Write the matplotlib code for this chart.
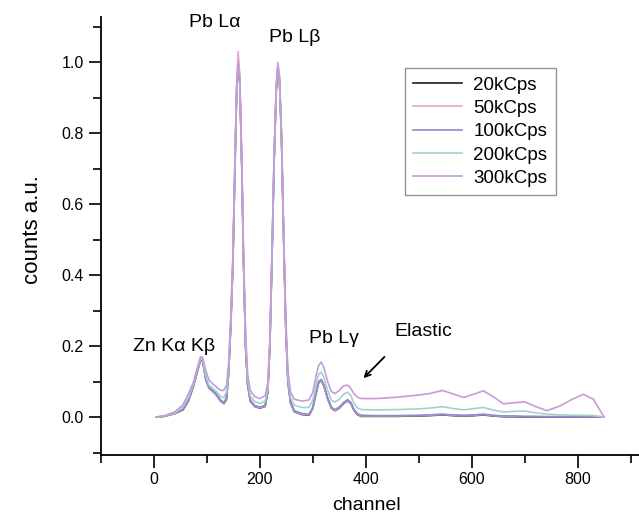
import matplotlib
matplotlib.use("Agg")
import matplotlib.pyplot as plt
from matplotlib.ticker import MultipleLocator

plt.rcParams['font.family'] = ['Liberation Sans', 'DejaVu Sans']

# channel positions
channel = [5, 20, 40, 55, 65, 75, 82, 88, 92, 98, 104, 110, 118, 126, 132, 137, 141, 145,
           149, 153, 156, 159, 162, 166, 169, 173, 177, 182, 190, 200, 210, 215, 219, 223,
           227, 231, 234, 237, 241, 245, 249, 253, 258, 265, 280, 293, 300, 306, 311, 316,
           321, 328, 335, 342, 350, 358, 366, 372, 378, 385, 392, 420, 460, 500, 520, 545,
           565, 585, 605, 622, 640, 660, 680, 700, 720, 742, 765, 790, 811, 830, 840, 850]

c20k = [0.000, 0.002, 0.010, 0.020, 0.045, 0.088, 0.128, 0.160, 0.158, 0.105, 0.082, 0.074,
        0.062, 0.045, 0.038, 0.050, 0.120, 0.250, 0.420, 0.700, 0.900, 0.990, 0.950, 0.700,
        0.450, 0.200, 0.090, 0.045, 0.030, 0.025, 0.030, 0.070, 0.200, 0.450, 0.720, 0.920,
        0.980, 0.950, 0.780, 0.500, 0.250, 0.100, 0.040, 0.015, 0.007, 0.005, 0.025, 0.065,
        0.097, 0.103, 0.088, 0.052, 0.025, 0.018, 0.025, 0.038, 0.046, 0.038, 0.018, 0.006,
        0.002, 0.002, 0.002, 0.003, 0.004, 0.006, 0.004, 0.003, 0.004, 0.006, 0.003, 0.001,
        0.001, 0.000, 0.000, 0.000, 0.000, 0.000, 0.000, 0.000, 0.000, 0.000]

c50k = [0.000, 0.002, 0.010, 0.021, 0.046, 0.089, 0.130, 0.162, 0.160, 0.107, 0.083, 0.075,
        0.063, 0.046, 0.039, 0.052, 0.125, 0.260, 0.440, 0.720, 0.930, 1.030, 0.970, 0.710,
        0.455, 0.205, 0.092, 0.046, 0.031, 0.026, 0.031, 0.072, 0.205, 0.460, 0.735, 0.940,
        1.000, 0.965, 0.785, 0.505, 0.252, 0.101, 0.041, 0.016, 0.008, 0.006, 0.026, 0.066,
        0.098, 0.104, 0.089, 0.053, 0.026, 0.019, 0.026, 0.039, 0.047, 0.039, 0.019, 0.007,
        0.003, 0.003, 0.003, 0.004, 0.005, 0.007, 0.005, 0.004, 0.005, 0.007, 0.004, 0.002,
        0.002, 0.001, 0.001, 0.001, 0.001, 0.001, 0.001, 0.001, 0.001, 0.000]

c100k = [0.000, 0.002, 0.011, 0.022, 0.047, 0.090, 0.131, 0.163, 0.161, 0.108, 0.085, 0.077,
         0.065, 0.048, 0.041, 0.054, 0.124, 0.255, 0.430, 0.710, 0.910, 1.000, 0.955, 0.705,
         0.455, 0.205, 0.094, 0.048, 0.033, 0.028, 0.033, 0.073, 0.203, 0.455, 0.725, 0.925,
         0.985, 0.955, 0.783, 0.503, 0.253, 0.103, 0.043, 0.018, 0.010, 0.008, 0.028, 0.068,
         0.100, 0.106, 0.091, 0.055, 0.028, 0.021, 0.028, 0.041, 0.049, 0.041, 0.021, 0.009,
         0.005, 0.004, 0.004, 0.005, 0.006, 0.008, 0.006, 0.005, 0.006, 0.008, 0.005, 0.003,
         0.003, 0.002, 0.002, 0.001, 0.001, 0.001, 0.001, 0.001, 0.001, 0.000]

c200k = [0.000, 0.003, 0.012, 0.030, 0.055, 0.095, 0.135, 0.165, 0.162, 0.115, 0.090, 0.082,
         0.072, 0.058, 0.055, 0.070, 0.130, 0.260, 0.430, 0.710, 0.910, 0.995, 0.955, 0.710,
         0.460, 0.220, 0.105, 0.060, 0.044, 0.038, 0.045, 0.080, 0.210, 0.460, 0.730, 0.925,
         0.985, 0.955, 0.790, 0.510, 0.260, 0.115, 0.055, 0.033, 0.027, 0.027, 0.047, 0.090,
         0.120, 0.127, 0.112, 0.075, 0.048, 0.042, 0.050, 0.064, 0.070, 0.060, 0.038, 0.025,
         0.021, 0.020, 0.021, 0.023, 0.025, 0.029, 0.024, 0.020, 0.024, 0.027, 0.020, 0.014,
         0.016, 0.017, 0.012, 0.008, 0.006, 0.005, 0.005, 0.004, 0.002, 0.000]

c300k = [0.000, 0.004, 0.015, 0.035, 0.065, 0.100, 0.140, 0.170, 0.168, 0.130, 0.105, 0.095,
         0.085, 0.075, 0.075, 0.090, 0.150, 0.280, 0.450, 0.720, 0.920, 1.000, 0.960, 0.720,
         0.480, 0.240, 0.120, 0.075, 0.058, 0.052, 0.060, 0.095, 0.220, 0.470, 0.740, 0.930,
         0.990, 0.960, 0.800, 0.530, 0.280, 0.130, 0.070, 0.050, 0.045, 0.048, 0.070, 0.115,
         0.145, 0.155, 0.140, 0.100, 0.072, 0.066, 0.075, 0.088, 0.090, 0.080, 0.065, 0.055,
         0.052, 0.052, 0.056, 0.062, 0.066, 0.075, 0.065, 0.055, 0.065, 0.074, 0.058, 0.037,
         0.040, 0.043, 0.030, 0.018, 0.030, 0.050, 0.064, 0.050, 0.025, 0.000]

labels = ['20kCps', '50kCps', '100kCps', '200kCps', '300kCps']
colors = ['#1c1c1c', '#e6a6cc', '#8a8ccc', '#9fd3cc', '#c99ad8']

fig = plt.figure(figsize=(6.39, 5.2), dpi=100)
ax = fig.add_axes([0.158, 0.125, 0.842, 0.842])

for vals, lab, col in zip([c20k, c50k, c100k, c200k, c300k], labels, colors):
    ax.plot(channel, vals, color=col, lw=1.2, label=lab)

ax.set_xlim(-100, 916)
ax.set_ylim(-0.107, 1.127)
ax.xaxis.set_major_locator(MultipleLocator(200))
ax.xaxis.set_minor_locator(MultipleLocator(100))
ax.yaxis.set_major_locator(MultipleLocator(0.2))
ax.yaxis.set_minor_locator(MultipleLocator(0.1))
ax.yaxis.set_major_formatter(matplotlib.ticker.FormatStrFormatter('%.1f'))
ax.tick_params(which='major', length=9, width=1.2, labelsize=11.5, direction='out')
ax.tick_params(which='minor', length=6, width=1.2, direction='out')
ax.spines['top'].set_visible(False)
ax.spines['right'].set_visible(False)
ax.spines['left'].set_linewidth(1.3)
ax.spines['bottom'].set_linewidth(1.3)

ax.set_xlabel('channel', fontsize=14)
ax.xaxis.set_label_coords(0.493, -0.095)
ax.set_ylabel('counts a.u.', fontsize=16)
ax.yaxis.set_label_coords(-0.108, 0.514)

ax.text(115, 1.113, 'Pb Lα', fontsize=14, ha='center', va='center')
ax.text(266, 1.07, 'Pb Lβ', fontsize=14, ha='center', va='center')
ax.text(38, 0.198, 'Zn Kα Kβ', fontsize=14, ha='center', va='center')
ax.text(340, 0.222, 'Pb Lγ', fontsize=14, ha='center', va='center')
ax.text(508, 0.24, 'Elastic', fontsize=14, ha='center', va='center')
ax.annotate('', xy=(392, 0.104), xytext=(439, 0.175),
            arrowprops=dict(arrowstyle='->', color='black', lw=1.3))

leg = ax.legend(loc='upper left', bbox_to_anchor=(405 / 639, 1 - 68 / 520),
                bbox_transform=fig.transFigure, borderaxespad=0, fontsize=13.5,
                frameon=True, fancybox=False, handlelength=2.6, labelspacing=0.33,
                borderpad=0.45, handletextpad=0.6)
leg.get_frame().set_edgecolor('#777777')
leg.get_frame().set_linewidth(1.0)

fig.savefig('out.png', dpi=100)
